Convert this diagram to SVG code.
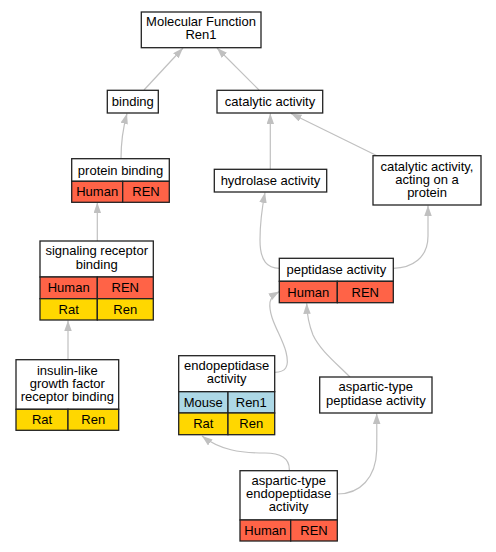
<svg xmlns="http://www.w3.org/2000/svg" width="496" height="552" viewBox="0 0 496 552">
<style>
.b{fill:#fff;stroke:#222;stroke-width:1.3}
.h{fill:#ff6347;stroke:#222;stroke-width:1.3}
.r{fill:#ffd700;stroke:#222;stroke-width:1.3}
.m{fill:#add8e6;stroke:#222;stroke-width:1.3}
text{font-family:"Liberation Sans",Arial,sans-serif;font-size:13px;fill:#000;text-anchor:middle}
.e{fill:none;stroke:#c0c0c0;stroke-width:1.2;marker-end:url(#a)}
</style>
<defs>
<marker id="a" markerUnits="userSpaceOnUse" markerWidth="11" markerHeight="8" refX="10.5" refY="3.75" orient="auto">
<path d="M0,0 L10.5,3.75 L0,7.5 z" fill="#c0c0c0"/>
</marker>
</defs>
<g id="edges">
<path class="e" d="M144,90 L183,48"/>
<path class="e" d="M259,90 L217,48"/>
<path class="e" d="M121,158.7 C121,140 123,128 127,113.5"/>
<path class="e" d="M270.3,169 L270.3,113.5"/>
<path class="e" d="M377,155.7 L291,113.5"/>
<path class="e" d="M97.3,241 L97.3,202.5"/>
<path class="e" d="M279.3,268.3 C268,268 260,262 260,240 C260,222 262,208 265,192.5"/>
<path class="e" d="M393.3,268.3 C412,268 428,258 428,236 C428,225 428,215 428,205.5"/>
<path class="e" d="M68,359.7 L68,320.5"/>
<path class="e" d="M274.7,372.3 C285,372 290,368 286,352 C282,336 268,318 270,302 C271,297 275,294 279.3,291.5"/>
<path class="e" d="M350,377 C335,362 320,350 313,335 C309,325 307,315 306.7,303.3"/>
<path class="e" d="M289.3,470.7 C290,458 280,453 265,453 C240,453 220,450 202,436"/>
<path class="e" d="M337.3,494 C360,494 376,478 376.7,450 C377,430 376.7,420 376.7,413.5"/>
</g>
<g id="n_mf">
<rect class="b" x="141.3" y="12" width="119.7" height="35.7"/>
<text x="201" y="26.2">Molecular Function</text>
<text x="201" y="39">Ren1</text>
</g>
<g id="n_binding">
<rect class="b" x="107.3" y="90.3" width="51" height="22.7"/>
<text x="132.8" y="106.2">binding</text>
</g>
<g id="n_catalytic">
<rect class="b" x="217" y="90.3" width="105.7" height="22.7"/>
<text x="270" y="106.2">catalytic activity</text>
</g>
<g id="n_protein_binding">
<rect class="b" x="71.7" y="158.7" width="97.6" height="22.6"/>
<rect class="h" x="71.7" y="181.3" width="51" height="21"/>
<rect class="h" x="122.7" y="181.3" width="46.6" height="21"/>
<text x="120.5" y="174.5">protein binding</text>
<text x="97.2" y="196.3">Human</text>
<text x="146" y="196.3">REN</text>
</g>
<g id="n_hydrolase">
<rect class="b" x="214.3" y="169.3" width="112.4" height="22.7"/>
<text x="270.5" y="185.2">hydrolase activity</text>
</g>
<g id="n_acting">
<rect class="b" x="373" y="155.7" width="108" height="49.3"/>
<text x="427" y="170.5">catalytic activity,</text>
<text x="427" y="183.8">acting on a</text>
<text x="427" y="197">protein</text>
</g>
<g id="n_signaling">
<rect class="b" x="40" y="241" width="113.3" height="36"/>
<rect class="h" x="40" y="277" width="57.3" height="21.7"/>
<rect class="h" x="97.3" y="277" width="56" height="21.7"/>
<rect class="r" x="40" y="298.7" width="57.3" height="21.3"/>
<rect class="r" x="97.3" y="298.7" width="56" height="21.3"/>
<text x="96.7" y="255">signaling receptor</text>
<text x="96.7" y="269">binding</text>
<text x="68.7" y="292.3">Human</text>
<text x="125.3" y="292.3">REN</text>
<text x="68.7" y="313.8">Rat</text>
<text x="125.3" y="313.8">Ren</text>
</g>
<g id="n_peptidase">
<rect class="b" x="279.3" y="258.3" width="114" height="23"/>
<rect class="h" x="279.3" y="281.3" width="58" height="21.4"/>
<rect class="h" x="337.3" y="281.3" width="56" height="21.4"/>
<text x="336.3" y="274.3">peptidase activity</text>
<text x="308.3" y="296.5">Human</text>
<text x="365.3" y="296.5">REN</text>
</g>
<g id="n_insulin">
<rect class="b" x="16" y="359.7" width="102.7" height="49.6"/>
<rect class="r" x="16" y="409.3" width="52" height="21"/>
<rect class="r" x="68" y="409.3" width="50.7" height="21"/>
<text x="67.3" y="374.5">insulin-like</text>
<text x="67.3" y="387.5">growth factor</text>
<text x="67.3" y="401">receptor binding</text>
<text x="42" y="424.3">Rat</text>
<text x="93.3" y="424.3">Ren</text>
</g>
<g id="n_endopeptidase">
<rect class="b" x="178.7" y="355.7" width="96" height="36"/>
<rect class="m" x="178.7" y="391.7" width="49.3" height="21.3"/>
<rect class="m" x="228" y="391.7" width="46.7" height="21.3"/>
<rect class="r" x="178.7" y="413" width="49.3" height="21.7"/>
<rect class="r" x="228" y="413" width="46.7" height="21.7"/>
<text x="226.7" y="370">endopeptidase</text>
<text x="226.7" y="383">activity</text>
<text x="203.3" y="406.8">Mouse</text>
<text x="251.3" y="406.8">Ren1</text>
<text x="203.3" y="428.3">Rat</text>
<text x="251.3" y="428.3">Ren</text>
</g>
<g id="n_asp_pep">
<rect class="b" x="319.7" y="377" width="112.3" height="36"/>
<text x="375.8" y="391">aspartic-type</text>
<text x="375.8" y="405.3">peptidase activity</text>
</g>
<g id="n_asp_endo">
<rect class="b" x="240" y="470.7" width="97.3" height="49.3"/>
<rect class="h" x="240" y="520" width="50.7" height="21"/>
<rect class="h" x="290.7" y="520" width="46.6" height="21"/>
<text x="288.7" y="485">aspartic-type</text>
<text x="288.7" y="498">endopeptidase</text>
<text x="288.7" y="511">activity</text>
<text x="265.3" y="535">Human</text>
<text x="314" y="535">REN</text>
</g>
</svg>
